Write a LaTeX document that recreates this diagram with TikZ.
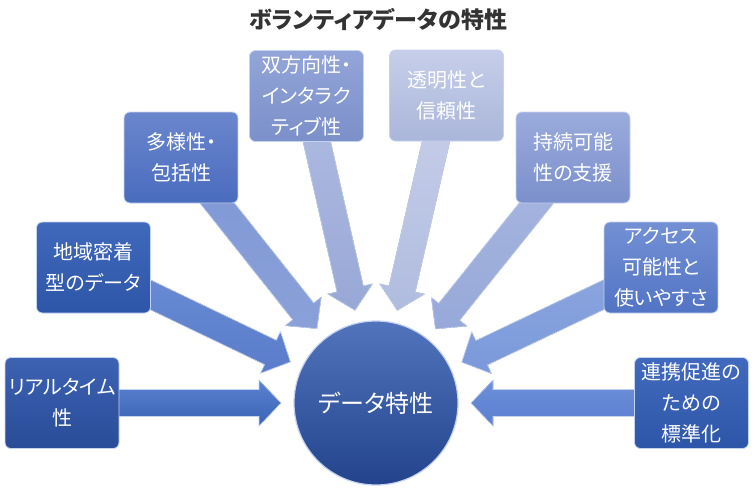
\documentclass[tikz,border=0pt]{standalone}
\usepackage{fontspec}
\setmainfont{Noto Sans CJK JP}[RawFeature=+palt]
\usetikzlibrary{calc}
\pgfdeclarelayer{bg}
\pgfsetlayers{bg,main}
\definecolor{titlec}{HTML}{333333}
\definecolor{rim}{HTML}{C5D3F2}
\definecolor{bxAt}{HTML}{3C62B2}\definecolor{bxAb}{HTML}{2A4C98}
\definecolor{bxBt}{HTML}{4068BB}\definecolor{bxBb}{HTML}{2D55A8}
\definecolor{bxCt}{HTML}{6A86CD}\definecolor{bxCb}{HTML}{4A6CBE}
\definecolor{bxDt}{HTML}{93A5D8}\definecolor{bxDb}{HTML}{7B8FC9}
\definecolor{bxEt}{HTML}{C6CEE9}\definecolor{bxEb}{HTML}{AAB6DA}
\definecolor{bxFt}{HTML}{9AABDC}\definecolor{bxFb}{HTML}{7B8FCB}
\definecolor{bxGt}{HTML}{7390D4}\definecolor{bxGb}{HTML}{5274C4}
\definecolor{bxHt}{HTML}{4169BD}\definecolor{bxHb}{HTML}{2E56A8}
\definecolor{arAt}{HTML}{5A82D0}\definecolor{arAb}{HTML}{3B63B6}
\definecolor{arBt}{HTML}{6B8ED6}\definecolor{arBb}{HTML}{5A7CCA}
\definecolor{arCt}{HTML}{7E97D5}\definecolor{arCb}{HTML}{8AA0D8}
\definecolor{arDt}{HTML}{B0BCE2}\definecolor{arDb}{HTML}{98A8D6}
\definecolor{arEt}{HTML}{C8CFE9}\definecolor{arEb}{HTML}{B0BCDF}
\definecolor{arFt}{HTML}{A9B7E0}\definecolor{arFb}{HTML}{97A9D9}
\definecolor{arGt}{HTML}{8EA7DE}\definecolor{arGb}{HTML}{7A99DB}
\definecolor{arHt}{HTML}{6E90D8}\definecolor{arHb}{HTML}{5A7ED0}
\definecolor{circt}{HTML}{5174BC}\definecolor{circb}{HTML}{23448C}
\newcommand\blockarrow[3]{%
  \coordinate (T#1) at ($(c)!95pt!(#1)$);
  \coordinate (H#1) at ($(c)!117pt!(#1)$);
  \fill[top color=#2,bottom color=#3,draw=rim,line width=0.6pt]
    ($(H#1)!13.5pt!90:(#1)$) -- ($(#1)!13.5pt!-90:(c)$) --
    ($(#1)!13.5pt!90:(c)$) -- ($(H#1)!13.5pt!-90:(#1)$) --
    ($(H#1)!23pt!-90:(#1)$) -- (T#1) -- ($(H#1)!23pt!90:(#1)$) -- cycle;
}
\tikzset{
  featbox/.style n args={2}{draw=rim, line width=0.8pt, rounded corners=6pt,
    top color=#1, bottom color=#2, minimum width=114pt, minimum height=91pt,
    inner sep=0pt, align=center, text=white,
    font=\fontsize{20}{31}\selectfont},
}
\begin{document}
\begin{tikzpicture}[x=1pt,y=-1pt]
\useasboundingbox (0,0) rectangle (755,491);
\node[font=\fontsize{23}{26}\selectfont\bfseries, text=titlec] (title) at (378,19) {ボランティアデータの特性};
\node[featbox={bxAt}{bxAb}] (b1) at (62,403) {リアルタイム\\性};
\node[featbox={bxBt}{bxBb}] (b2) at (93.5,267.5) {地域密着\\型のデータ};
\node[featbox={bxCt}{bxCb}] (b3) at (181,157.5) {多様性・\\包括性};
\node[featbox={bxDt}{bxDb}] (b4) at (306.5,96) {双方向性・\\インタラク\\ティブ性};
\node[featbox={bxEt}{bxEb}] (b5) at (446.5,95.5) {透明性と\\信頼性};
\node[featbox={bxFt}{bxFb}] (b6) at (573,157.5) {持続可能\\性の支援};
\node[featbox={bxGt}{bxGb}] (b7) at (661,267.5) {アクセス\\可能性と\\使いやすさ};
\node[featbox={bxHt}{bxHb}] (b8) at (691.5,403) {連携促進の\\ための\\標準化};
\node[circle, minimum size=164pt, inner sep=0pt, top color=circt, bottom color=circb,
      draw=rim, line width=1.2pt, text=white, font=\fontsize{24}{28}\selectfont] (c) at (376,403) {データ特性};
\begin{pgfonlayer}{bg}
\blockarrow{b1}{arAt}{arAb}
\blockarrow{b2}{arBt}{arBb}
\blockarrow{b3}{arCt}{arCb}
\blockarrow{b4}{arDt}{arDb}
\blockarrow{b5}{arEt}{arEb}
\blockarrow{b6}{arFt}{arFb}
\blockarrow{b7}{arGt}{arGb}
\blockarrow{b8}{arHt}{arHb}
\end{pgfonlayer}
\end{tikzpicture}
\end{document}
